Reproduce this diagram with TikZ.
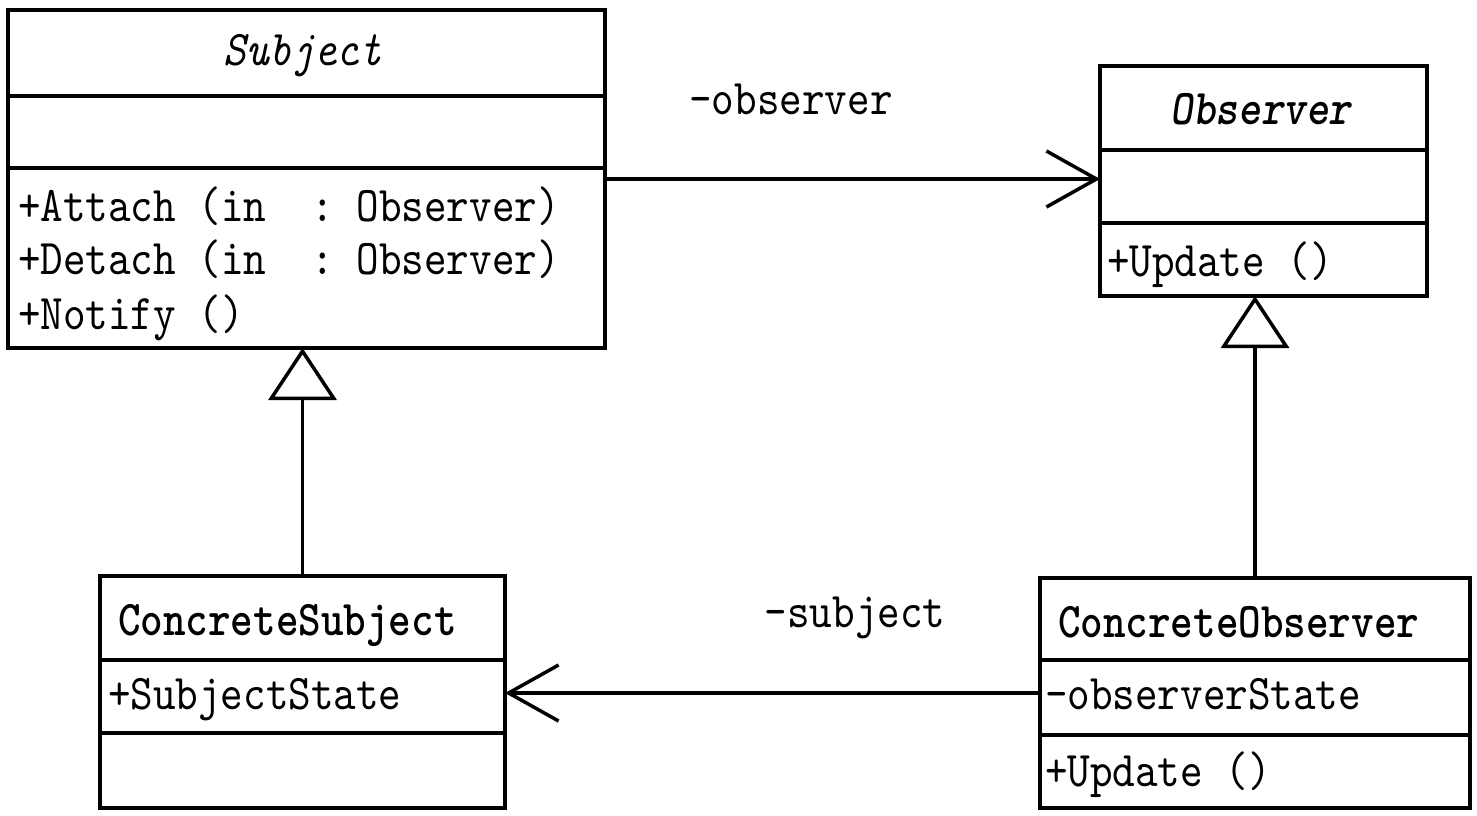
\documentclass[tikz,border=0pt]{standalone}
\usepackage{fontspec}
\usetikzlibrary{arrows.meta}
\newfontfamily\umlfont[FakeStretch=0.86, BoldFont=lmmonolt10-bold.otf, ItalicFont=lmmono10-italic.otf, BoldItalicFont=lmmonolt10-boldoblique.otf]{lmmono10-regular.otf}
\tikzset{
  cls/.style={draw, line width=4pt, rectangle, inner sep=0pt, outer sep=0pt},
  divline/.style={line width=4pt},
  txt/.style={inner sep=0pt, outer sep=0pt, anchor=base west},
  ttl/.style={inner sep=0pt, outer sep=0pt, anchor=base},
  lbl/.style={inner sep=0pt, outer sep=0pt, anchor=base},
  assoc/.style={line width=3.5pt, -{Straight Barb[length=50pt, width=56pt, line width=3.5pt]}},
  gen/.style={line width=3.5pt, -{Triangle[open, length=52pt, width=68pt, line width=3.5pt]}}
}
\begin{document}
\begin{tikzpicture}[x=1pt, y=-1pt, font=\umlfont\fontsize{50}{56}\selectfont]
\fill[white] (0,0) rectangle (1477,816);
\useasboundingbox (0,0) rectangle (1477,816);

% Subject
\node[cls, minimum width=597pt, minimum height=338pt] (subj) at (306.5,179) {};
\draw[divline] (subj.west |- 0,96) -- (subj.east |- 0,96);
\draw[divline] (subj.west |- 0,168) -- (subj.east |- 0,168);
\node[ttl] (subjT) at (303,66) {\itshape Subject};
\node[txt] (subjO1) at (18,221) {+Attach (in\ \ :\ Observer)};
\node[txt] (subjO2) at (18,274) {+Detach (in\ \ :\ Observer)};
\node[txt] (subjO3) at (18,329) {+Notify ()};

% Observer
\node[cls, minimum width=327pt, minimum height=230pt] (obs) at (1263.5,181) {};
\draw[divline] (obs.west |- 0,150) -- (obs.east |- 0,150);
\draw[divline] (obs.west |- 0,223) -- (obs.east |- 0,223);
\node[ttl] (obsT) at (1261,124) {\bfseries\itshape Observer};
\node[txt] (obsO1) at (1107,276) {+Update ()};

% ConcreteSubject
\node[cls, minimum width=405pt, minimum height=232pt] (cs) at (302.5,692) {};
\draw[divline] (cs.west |- 0,660) -- (cs.east |- 0,660);
\draw[divline] (cs.west |- 0,733) -- (cs.east |- 0,733);
\node[txt] (csT) at (118,635) {\bfseries ConcreteSubject};
\node[txt] (csA1) at (108,709) {+SubjectState};

% ConcreteObserver
\node[cls, minimum width=430pt, minimum height=230pt] (co) at (1255,693) {};
\draw[divline] (co.west |- 0,660) -- (co.east |- 0,660);
\draw[divline] (co.west |- 0,735) -- (co.east |- 0,735);
\node[txt] (coT) at (1058,637) {\bfseries ConcreteObserver};
\node[txt] (coA1) at (1045,709) {-observerState};
\node[txt] (coO1) at (1045,786) {+Update ()};

% Connectors
\draw[assoc] (subj.east) -- (subj.east -| obs.west);
\node[lbl] (lobs) at (791,114) {-observer};
\draw[assoc] (co.west) -- (co.west -| cs.east);
\node[lbl] (lsub) at (855,627) {-subject};
\draw[gen] (cs.north) -- (cs.north |- subj.south);
\draw[gen] (co.north) -- (co.north |- obs.south);
\end{tikzpicture}
\end{document}
